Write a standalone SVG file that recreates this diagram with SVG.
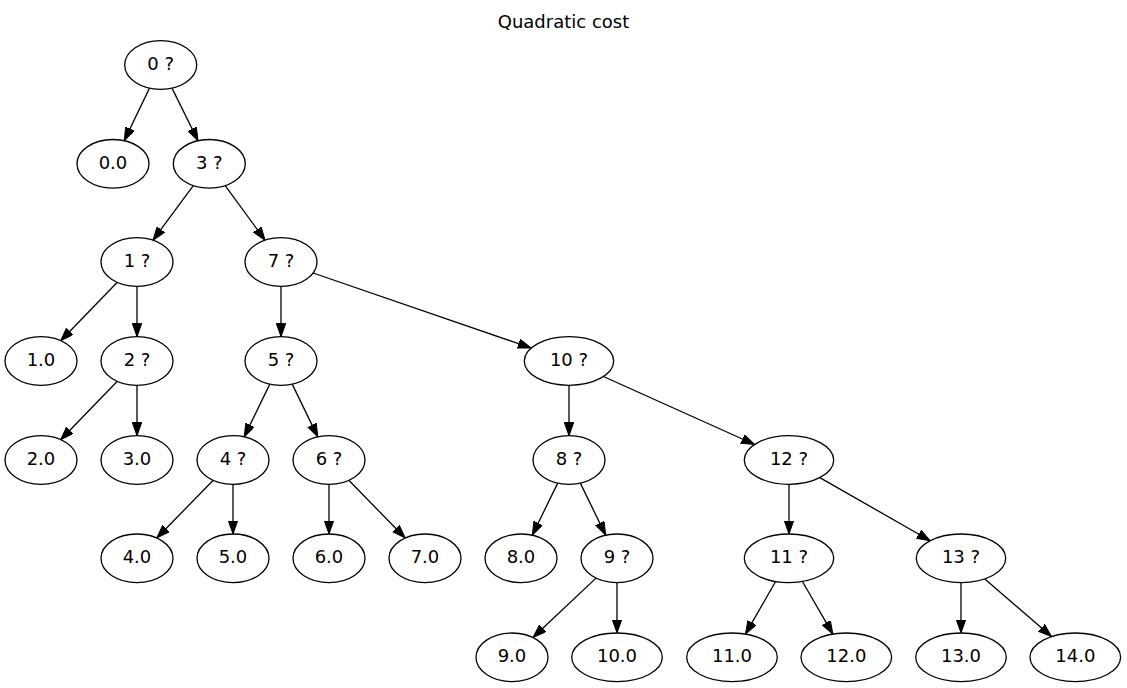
<svg xmlns="http://www.w3.org/2000/svg" width="1127" height="688" viewBox="0 0 1127 688">
<style>
.n ellipse{fill:#fff;stroke:#000;stroke-width:1.3}
text{font-family:"DejaVu Sans",sans-serif;font-size:18px;text-anchor:middle;fill:#000}
.e path{fill:none;stroke:#000;stroke-width:1.3;marker-end:url(#a)}
</style>
<defs>
<marker id="a" markerUnits="userSpaceOnUse" markerWidth="14" markerHeight="10" refX="13.3" refY="4.7" orient="auto" viewBox="0 0 14 10">
<path d="M0,0 L13.3,4.7 L0,9.4 z" fill="#000" stroke="#000" stroke-width="1"/>
</marker>
</defs>
<rect width="1127" height="688" fill="#fff"/>
<text x="563.5" y="27.5">Quadratic cost</text>
<g class="e" id="edges">
<path d="M149.5,88.1 L124.2,140.7"/>
<path d="M172,88.1 L198,140.7"/>
<path d="M193.3,185.6 L153,240.2"/>
<path d="M225.2,185.6 L265.1,240.2"/>
<path d="M117.3,282.3 L60.7,340.7"/>
<path d="M137,286.3 L137,336.7"/>
<path d="M281,286.3 L281,336.7"/>
<path d="M313.1,273 L531.2,348"/>
<path d="M117.3,381.3 L60.7,439.7"/>
<path d="M137,385.3 L137,435.7"/>
<path d="M269.8,384.1 L244.2,436.9"/>
<path d="M292.2,384.1 L317.8,436.9"/>
<path d="M569,385.3 L569,435.7"/>
<path d="M603.4,376.5 L754.6,444.5"/>
<path d="M213.2,480.3 L156.8,538"/>
<path d="M233,484.3 L233,534"/>
<path d="M329,484.3 L329,534"/>
<path d="M348.8,480.3 L405.2,538"/>
<path d="M557.7,483.1 L532.3,535.2"/>
<path d="M580.3,483.1 L605.7,535.2"/>
<path d="M789,484.3 L789,534"/>
<path d="M819.8,477.6 L930.2,540.7"/>
<path d="M596,578.1 L533,637.5"/>
<path d="M617,582.6 L617,633"/>
<path d="M775.6,581.5 L745.4,634.1"/>
<path d="M802.4,581.5 L832.9,634.1"/>
<path d="M961,582.6 L961,633"/>
<path d="M984.8,578.9 L1051.5,636.6"/>
</g>
<g class="n" id="n0"><ellipse cx="160.7" cy="65" rx="36" ry="24.3"/><text x="160.7" y="70">0 ?</text></g>
<g class="n" id="l0"><ellipse cx="113" cy="163.8" rx="36" ry="24.3"/><text x="113" y="168.8">0.0</text></g>
<g class="n" id="n3"><ellipse cx="209.3" cy="163.8" rx="36" ry="24.3"/><text x="209.3" y="168.8">3 ?</text></g>
<g class="n" id="n1"><ellipse cx="137" cy="262" rx="36" ry="24.3"/><text x="137" y="267">1 ?</text></g>
<g class="n" id="n7"><ellipse cx="281" cy="262" rx="36" ry="24.3"/><text x="281" y="267">7 ?</text></g>
<g class="n" id="l1"><ellipse cx="41" cy="361" rx="36" ry="24.3"/><text x="41" y="366">1.0</text></g>
<g class="n" id="n2"><ellipse cx="137" cy="361" rx="36" ry="24.3"/><text x="137" y="366">2 ?</text></g>
<g class="n" id="n5"><ellipse cx="281" cy="361" rx="36" ry="24.3"/><text x="281" y="366">5 ?</text></g>
<g class="n" id="n10"><ellipse cx="569" cy="361" rx="44.7" ry="24.3"/><text x="569" y="366">10 ?</text></g>
<g class="n" id="l2"><ellipse cx="41" cy="460" rx="36" ry="24.3"/><text x="41" y="465">2.0</text></g>
<g class="n" id="l3"><ellipse cx="137" cy="460" rx="36" ry="24.3"/><text x="137" y="465">3.0</text></g>
<g class="n" id="n4"><ellipse cx="233" cy="460" rx="36" ry="24.3"/><text x="233" y="465">4 ?</text></g>
<g class="n" id="n6"><ellipse cx="329" cy="460" rx="36" ry="24.3"/><text x="329" y="465">6 ?</text></g>
<g class="n" id="n8"><ellipse cx="569" cy="460" rx="36" ry="24.3"/><text x="569" y="465">8 ?</text></g>
<g class="n" id="n12"><ellipse cx="789" cy="460" rx="44.7" ry="24.3"/><text x="789" y="465">12 ?</text></g>
<g class="n" id="l4"><ellipse cx="137" cy="558.3" rx="36" ry="24.3"/><text x="137" y="563.3">4.0</text></g>
<g class="n" id="l5"><ellipse cx="233" cy="558.3" rx="36" ry="24.3"/><text x="233" y="563.3">5.0</text></g>
<g class="n" id="l6"><ellipse cx="329" cy="558.3" rx="36" ry="24.3"/><text x="329" y="563.3">6.0</text></g>
<g class="n" id="l7"><ellipse cx="425" cy="558.3" rx="36" ry="24.3"/><text x="425" y="563.3">7.0</text></g>
<g class="n" id="l8"><ellipse cx="521" cy="558.3" rx="36" ry="24.3"/><text x="521" y="563.3">8.0</text></g>
<g class="n" id="n9"><ellipse cx="617" cy="558.3" rx="36" ry="24.3"/><text x="617" y="563.3">9 ?</text></g>
<g class="n" id="n11"><ellipse cx="789" cy="558.3" rx="44.7" ry="24.3"/><text x="789" y="563.3">11 ?</text></g>
<g class="n" id="n13"><ellipse cx="961" cy="558.3" rx="44.7" ry="24.3"/><text x="961" y="563.3">13 ?</text></g>
<g class="n" id="l9"><ellipse cx="512" cy="657.3" rx="36" ry="24.3"/><text x="512" y="662.3">9.0</text></g>
<g class="n" id="l10"><ellipse cx="617" cy="657.3" rx="45.3" ry="24.3"/><text x="617" y="662.3">10.0</text></g>
<g class="n" id="l11"><ellipse cx="732" cy="657.3" rx="45.3" ry="24.3"/><text x="732" y="662.3">11.0</text></g>
<g class="n" id="l12"><ellipse cx="846.3" cy="657.3" rx="45.3" ry="24.3"/><text x="846.3" y="662.3">12.0</text></g>
<g class="n" id="l13"><ellipse cx="961" cy="657.3" rx="45.3" ry="24.3"/><text x="961" y="662.3">13.0</text></g>
<g class="n" id="l14"><ellipse cx="1075.3" cy="657.3" rx="45.3" ry="24.3"/><text x="1075.3" y="662.3">14.0</text></g>
</svg>
